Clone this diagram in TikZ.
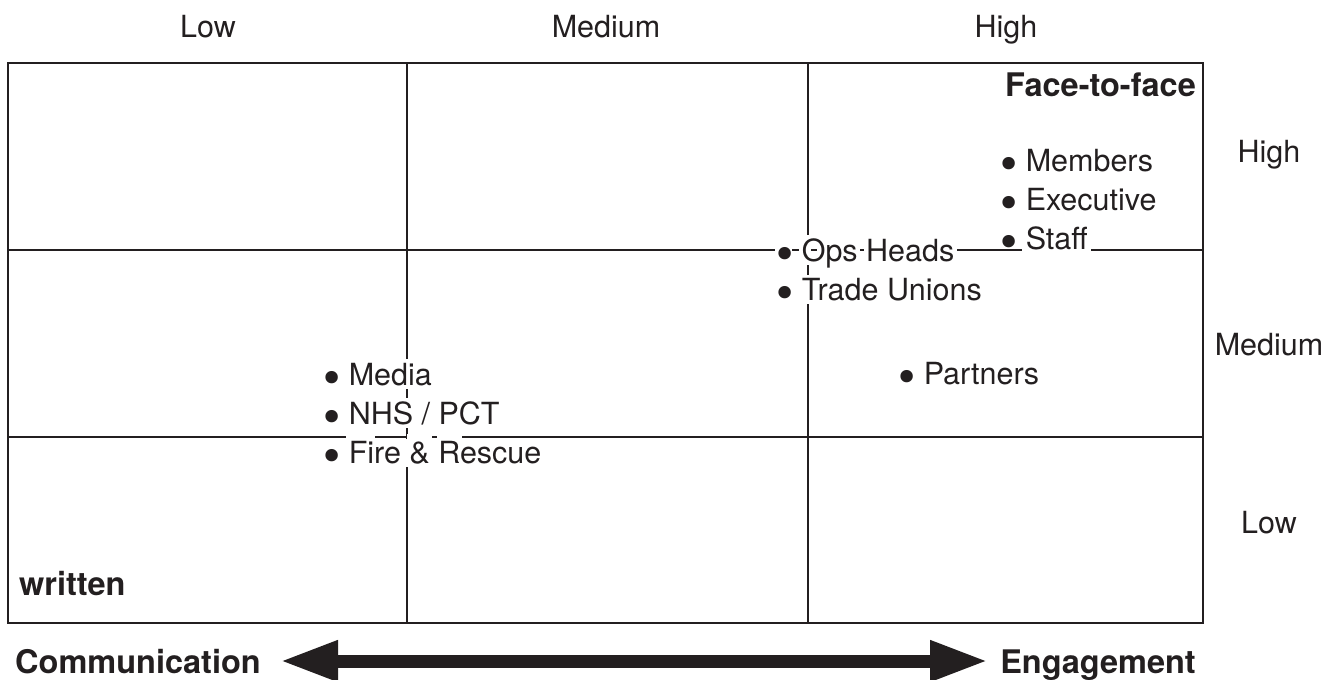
\documentclass[tikz,border=0pt]{standalone}
\usepackage{fontspec}
\setmainfont{TeX Gyre Heros}
\newfontfamily\bulfont{DejaVu Sans}
\usetikzlibrary{arrows.meta}
\definecolor{ink}{HTML}{231F20}
\newcommand\bul{{\bulfont\smash{\raisebox{-8pt}{\scalebox{1.4}{•}}}}\hspace{4.4pt}}
\tikzset{
  grid/.style={draw=ink, line width=2.6pt},
  gap/.style={fill=white},
  item/.style={inner sep=0pt, text=ink, anchor=base west, font=\fontsize{30.5pt}{36pt}\selectfont},
  axislabel/.style={inner sep=0pt, text=ink, anchor=base, font=\fontsize{30.5pt}{36pt}\selectfont},
  boldlabel/.style={inner sep=0pt, text=ink, font=\fontsize{32.5pt}{38pt}\selectfont\bfseries},
  shaft/.style={draw=ink, line width=13pt},
  bigarrow/.style={shaft, {Triangle[length=58pt,width=38pt]}-{Triangle[length=58pt,width=38pt]}}
}
\begin{document}
\begin{tikzpicture}[x=1pt,y=-1pt]
\useasboundingbox (0,0) rectangle (1344,680);
% grid
\draw[grid] (8,63) rectangle (1203,623);
\draw[grid] (407,63) -- (407,623);
\draw[grid] (808,63) -- (808,623);
\draw[grid] (8,250) -- (1203,250);
\draw[grid] (8,437) -- (1203,437);
% knock-outs of the grid lines around the item texts
\fill[gap] (774.5,246) rectangle (791.5,254);
\fill[gap] (798.5,246) rectangle (808.5,254);
\fill[gap] (817,246) rectangle (859.5,254);
\fill[gap] (864,246) rectangle (957,254);
\fill[gap] (1021.5,246) rectangle (1091,254);
\fill[gap] (805,234.5) rectangle (811,265);
\fill[gap] (805,274.5) rectangle (811,303.5);
\fill[gap] (404,359) rectangle (410,388.5);
\fill[gap] (404,397.5) rectangle (410,428);
\fill[gap] (404,438.6) rectangle (410,467);
\fill[gap] (346,434) rectangle (375,440);
\fill[gap] (406.5,434) rectangle (431.5,440);
\fill[gap] (436.5,434) rectangle (461.5,440);
% column labels
\node[axislabel] (cLow) at (208,37) {Low};
\node[axislabel] (cMed) at (606,37) {Medium};
\node[axislabel] (cHigh) at (1006,37) {High};
% row labels
\node[axislabel] (rHigh) at (1269,162) {High};
\node[axislabel] (rMed) at (1269,355) {Medium};
\node[axislabel] (rLow) at (1269,533) {Low};
% corner labels
\node[boldlabel, anchor=base east] (f2f) at (1196,96) {Face-to-face};
\node[boldlabel, anchor=base west] (written) at (19,595) {written};
% items
\node[item] (members) at (996,171) {\bul Members};
\node[item] (executive) at (996,210) {\bul Executive};
\node[item] (staff) at (996,249) {\bul Staff};
\node[item] (ops) at (772,261) {\bul Ops Heads};
\node[item] (trade) at (772,300) {\bul Trade Unions};
\node[item] (partners) at (894,384) {\bul Partners};
\node[item] (media) at (319,385) {\bul Media};
\node[item] (nhs) at (319,424) {\bul NHS / PCT};
\node[item] (fire) at (319,463) {\bul Fire \& Rescue};
% bottom arrow
\node[boldlabel, anchor=base west] (comm) at (15,673) {Communication};
\node[boldlabel, anchor=base east] (eng) at (1196,673) {Engagement};
\coordinate (aL) at (280,661);
\coordinate (aR) at (988,661);
\draw[bigarrow] (aL) -- (aR);
\draw[shaft] ([xshift=40pt]aL) -- ([xshift=-40pt]aR);
\end{tikzpicture}
\end{document}
